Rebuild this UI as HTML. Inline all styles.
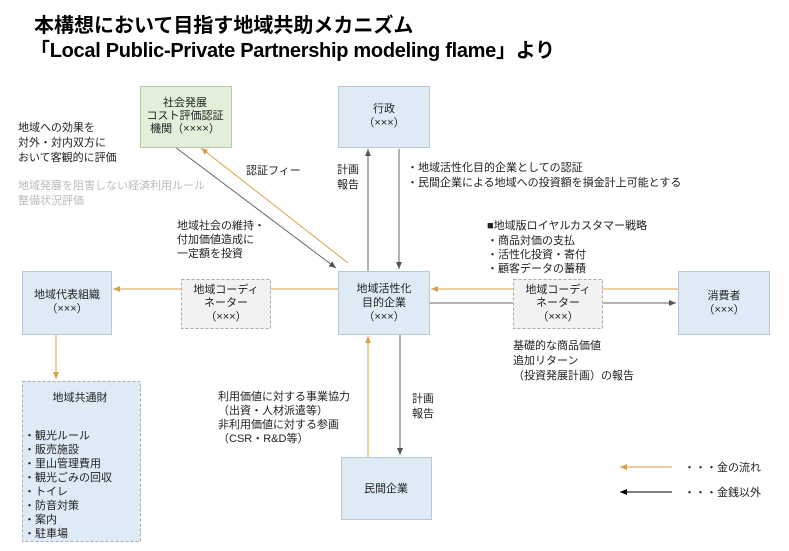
<!DOCTYPE html>
<html><head><meta charset="utf-8"><style>
html,body{margin:0;padding:0;background:#fff;}
svg text{font-family:"Liberation Sans","Noto Sans CJK JP",sans-serif;}
</style></head><body>
<svg width="789" height="546" viewBox="0 0 789 546" xmlns="http://www.w3.org/2000/svg">
<defs>
<marker id="g" markerWidth="8" markerHeight="8" refX="7" refY="4" orient="auto" markerUnits="userSpaceOnUse"><path d="M0,1 L7,4 L0,7 z" fill="#555"/></marker>
<marker id="o" markerWidth="8" markerHeight="8" refX="7" refY="4" orient="auto" markerUnits="userSpaceOnUse"><path d="M0,1 L7,4 L0,7 z" fill="#d9a24a"/></marker>
<marker id="k" markerWidth="8" markerHeight="8" refX="7" refY="4" orient="auto" markerUnits="userSpaceOnUse"><path d="M0,1 L7,4 L0,7 z" fill="#000"/></marker>
</defs>
<text x="34" y="32" font-size="20" font-weight="bold" fill="#000">本構想において目指す地域共助メカニズム</text>
<text x="30" y="57" font-size="20" font-weight="bold" fill="#000" textLength="525">「Local Public-Private Partnership modeling flame」より</text>

<!-- lines -->
<line x1="175" y1="147" x2="336" y2="268" stroke="#666" stroke-width="1" marker-end="url(#g)"/>
<line x1="348" y1="263" x2="201" y2="148" stroke="#d9a24a" stroke-width="1" marker-end="url(#o)"/>
<line x1="368" y1="271" x2="368" y2="149" stroke="#666" marker-end="url(#g)"/>
<line x1="399" y1="149" x2="399" y2="269" stroke="#666" marker-end="url(#g)"/>
<line x1="338" y1="289" x2="113" y2="289" stroke="#d9a24a" marker-end="url(#o)"/>
<line x1="678" y1="289" x2="431" y2="289" stroke="#d9a24a" marker-end="url(#o)"/>
<line x1="429" y1="303" x2="676" y2="303" stroke="#666" marker-end="url(#g)"/>
<line x1="56" y1="334" x2="56" y2="379" stroke="#d9a24a" marker-end="url(#o)"/>
<line x1="368" y1="457" x2="368" y2="336" stroke="#d9a24a" marker-end="url(#o)"/>
<line x1="400" y1="334" x2="400" y2="455" stroke="#666" marker-end="url(#g)"/>

<!-- boxes -->
<g stroke="#b8c8d6" stroke-width="1" fill="#deebf7">
<rect x="338.5" y="86.5" width="91" height="61"/>
<rect x="338.5" y="271.5" width="91" height="63"/>
<rect x="678.5" y="271.5" width="91" height="63"/>
<rect x="22.5" y="271.5" width="89" height="63"/>
<rect x="341.5" y="457.5" width="90" height="62"/>
</g>
<rect x="140.5" y="86.5" width="91" height="61" fill="#e2f0d9" stroke="#b8c8a8"/>
<rect x="22.5" y="381.5" width="118" height="160" fill="#deebf7" stroke="#aab" stroke-dasharray="3,2"/>
<rect x="181.5" y="279.5" width="89" height="49" fill="#f2f2f2" stroke="#aaa" stroke-dasharray="3,2"/>
<rect x="513.5" y="279.5" width="89" height="49" fill="#f2f2f2" stroke="#aaa" stroke-dasharray="3,2"/>

<g font-size="11" fill="#222" text-anchor="middle">
<text x="185" y="106">社会発展</text>
<text x="185" y="119">コスト評価認証</text>
<text x="185" y="132">機関（××××）</text>
<text x="384" y="112">行政</text>
<text x="384" y="126">（×××）</text>
<text x="384" y="292">地域活性化</text>
<text x="384" y="306">目的企業</text>
<text x="384" y="320">（×××）</text>
<text x="724" y="299">消費者</text>
<text x="724" y="313">（×××）</text>
<text x="67" y="298">地域代表組織</text>
<text x="67" y="312">（×××）</text>
<text x="226" y="293">地域コーディ</text>
<text x="226" y="306">ネーター</text>
<text x="226" y="320">（×××）</text>
<text x="558" y="293">地域コーディ</text>
<text x="558" y="306">ネーター</text>
<text x="558" y="320">（×××）</text>
<text x="386" y="492">民間企業</text>
<text x="80" y="401">地域共通財</text>
</g>

<g font-size="11" fill="#222">
<text x="18" y="131">地域への効果を</text>
<text x="18" y="146">対外・対内双方に</text>
<text x="18" y="161">おいて客観的に評価</text>
<text x="18" y="189" fill="#bbb">地域発展を阻害しない経済利用ルール</text>
<text x="18" y="204" fill="#bbb">整備状況評価</text>
<text x="246" y="174">認証フィー</text>
<text x="177" y="229">地域社会の維持・</text>
<text x="177" y="243">付加価値造成に</text>
<text x="177" y="257">一定額を投資</text>
<text x="337" y="173">計画</text>
<text x="337" y="188">報告</text>
<text x="407" y="171">・地域活性化目的企業としての認証</text>
<text x="407" y="186">・民間企業による地域への投資額を損金計上可能とする</text>
<text x="487" y="229">■地域版ロイヤルカスタマー戦略</text>
<text x="487" y="244">・商品対価の支払</text>
<text x="487" y="258">・活性化投資・寄付</text>
<text x="487" y="272">・顧客データの蓄積</text>
<text x="513" y="349">基礎的な商品価値</text>
<text x="513" y="364">追加リターン</text>
<text x="513" y="379">（投資発展計画）の報告</text>
<text x="218" y="400">利用価値に対する事業協力</text>
<text x="218" y="414">（出資・人材派遣等）</text>
<text x="218" y="428">非利用価値に対する参画</text>
<text x="218" y="442">（CSR・R&amp;D等）</text>
<text x="412" y="402">計画</text>
<text x="412" y="417">報告</text>
<text x="24" y="439">・観光ルール</text>
<text x="24" y="453">・販売施設</text>
<text x="24" y="467">・里山管理費用</text>
<text x="24" y="481">・観光ごみの回収</text>
<text x="24" y="495">・トイレ</text>
<text x="24" y="509">・防音対策</text>
<text x="24" y="523">・案内</text>
<text x="24" y="537">・駐車場</text>
<text x="684" y="471">・・・金の流れ</text>
<text x="684" y="496">・・・金銭以外</text>
</g>
<line x1="672" y1="467" x2="620" y2="467" stroke="#d9a24a" marker-end="url(#o)"/>
<line x1="672" y1="492" x2="620" y2="492" stroke="#000" marker-end="url(#k)"/>
</svg>
</body></html>
